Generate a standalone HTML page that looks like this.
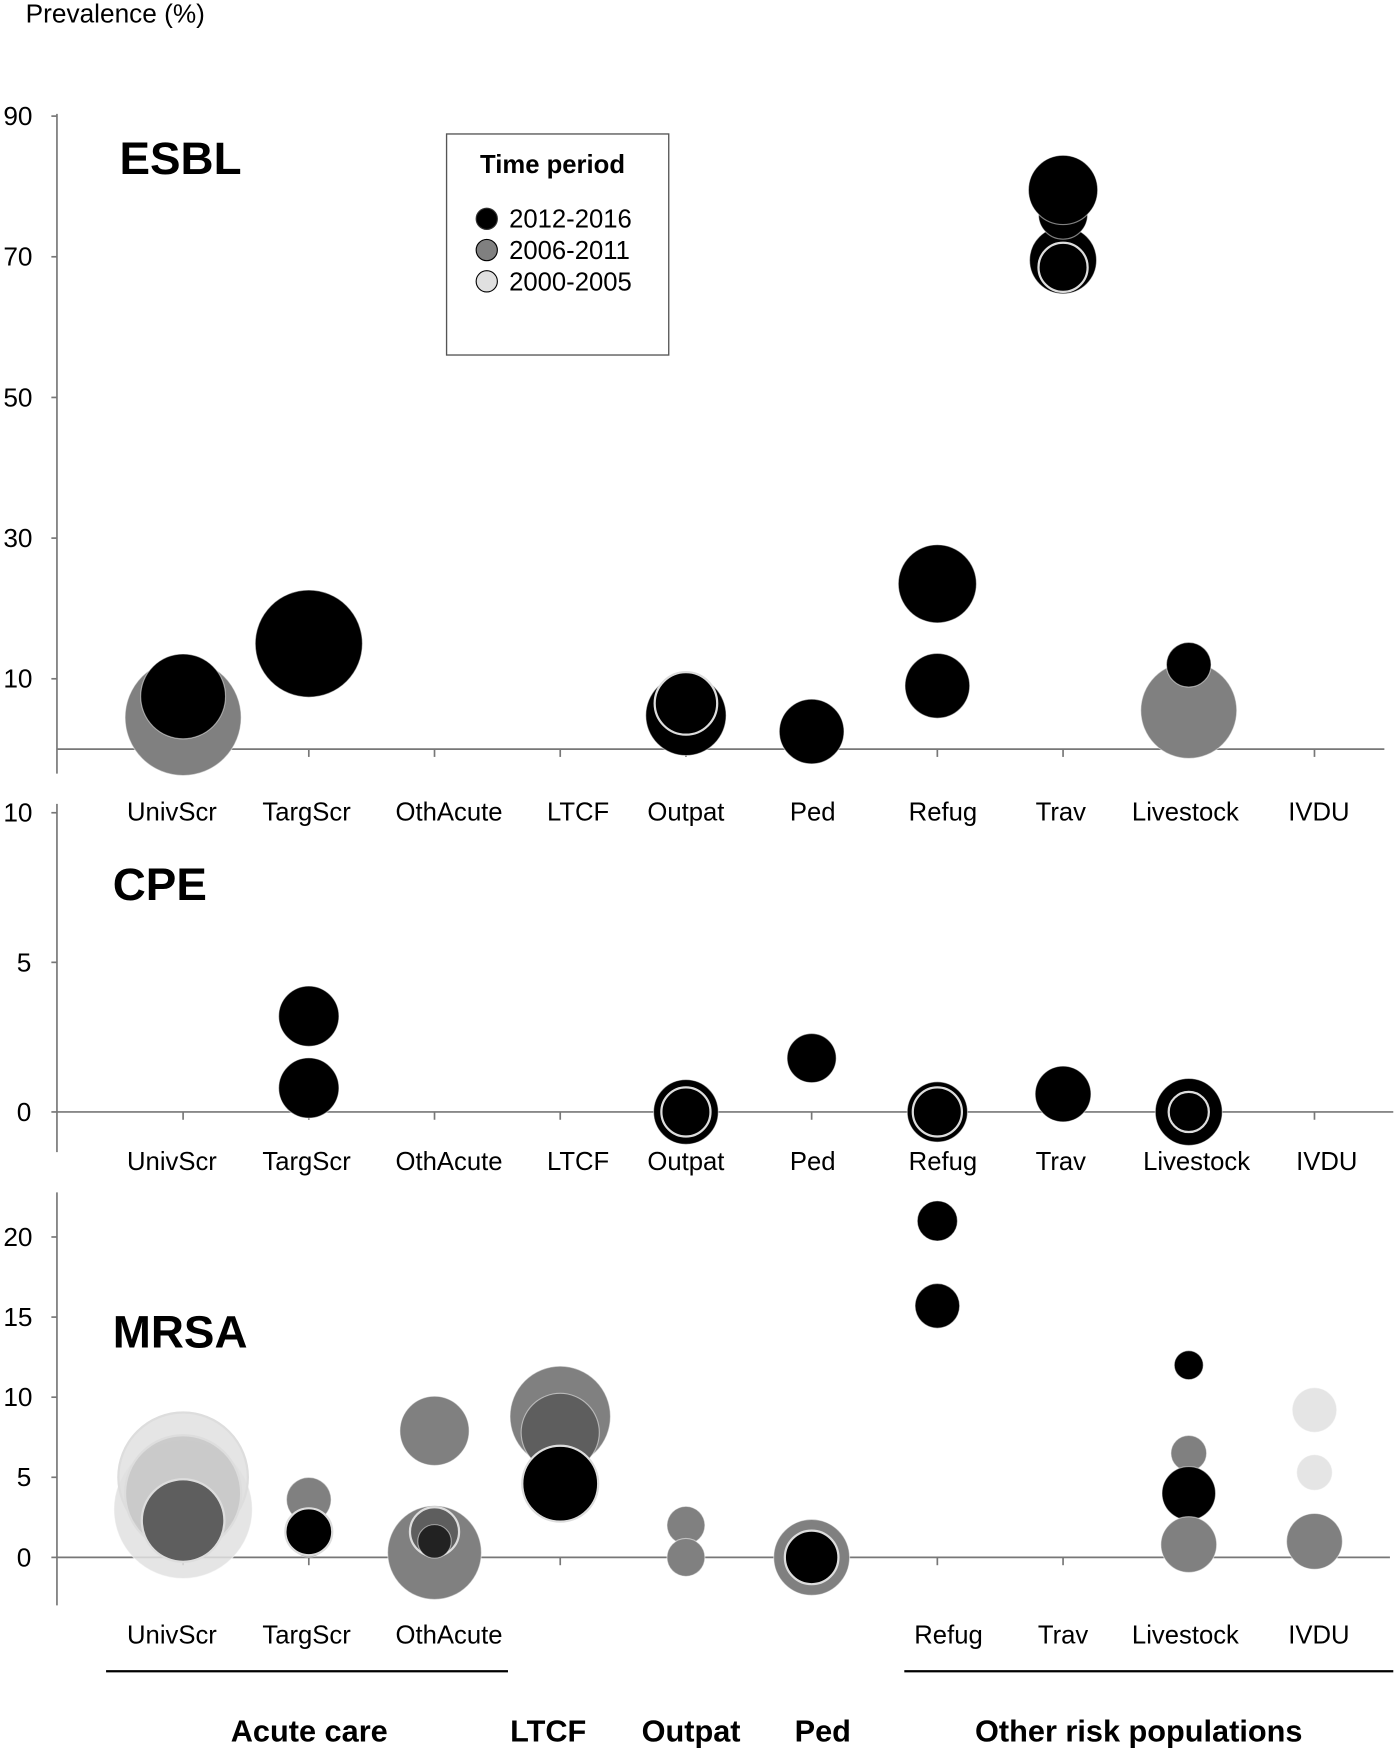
<!DOCTYPE html>
<html><head><meta charset="utf-8"><style>
html,body{margin:0;padding:0;background:#fff;width:1400px;height:1755px;overflow:hidden}
svg text{font-family:"Liberation Sans",sans-serif}
</style></head><body>
<svg id="chart" width="1400" height="1755" viewBox="0 0 1254 1572" xmlns="http://www.w3.org/2000/svg">
<text x="23" y="20" font-size="23.5">Prevalence (%)</text>
<g id="legend">
<rect x="400" y="120" width="199" height="198" fill="#fff" stroke="#555" stroke-width="1.2"/>
<text x="430" y="155" font-size="23" font-weight="bold">Time period</text>
<g><circle cx="436" cy="196" r="9.5" fill="#000" stroke="#333"/><text x="456" y="204" font-size="23">2012-2016</text></g>
<g><circle cx="436" cy="224" r="9.5" fill="#808080" stroke="#000"/><text x="456" y="232" font-size="23">2006-2011</text></g>
<g><circle cx="436" cy="252" r="9.5" fill="#e0e0e0" stroke="#000"/><text x="456" y="260" font-size="23">2000-2005</text></g>
</g>
<g id="root"></g>
</svg>
<script>
const categories = ['UnivScr','TargScr','OthAcute','LTCF','Outpat','Ped','Refug','Trav','Livestock','IVDU'];
const esblTicks = [10,30,50,70,90];
const cpeTicks = [0,5,10];
const mrsaTicks = [0,5,10,15,20];
const esblCat = [0,0,1,4,4,5,6,6,7,7,7,7,8,8];
const esblVal = [4.5,7.5,15,4.8,6.5,2.5,23.5,9,69.5,76,79.5,68.5,5.5,12];
const esblRad = [52,38,48,36,28,29,35,29,30,22,31,22,43,20];
const esblPer = [1,0,0,0,0,0,0,0,0,0,0,0,1,0];
const esblRing= [0,0,0,0,1,0,0,0,0,0,0,1,0,0];
const cpeCat = [1,1,4,4,5,6,6,7,8,8];
const cpeVal = [3.2,0.8,0,0,1.8,0,0,0.6,0,0];
const cpeRad = [27,27,29,22,22,27,22,25,30,18];
const cpePer = [0,0,0,0,0,0,0,0,0,0];
const cpeRing= [0,0,0,1,0,0,1,0,0,1];
const mrsaCat = [0,0,0,0,1,1,1,2,2,2,2,3,3,3,4,4,5,5,6,6,8,8,8,8,9,9,9];
const mrsaVal = [3,5,4,2.3,3.6,1.2,1.6,7.9,0.3,1.6,1.0,8.8,7.8,4.6,2,0,0,0,21,15.7,12,6.5,4,0.8,9.2,5.3,1];
const mrsaRad = [62,58,52,37,20,17,21,31,42,22,15,45,35,34,17,17,34,24,18,20,13,16,24,25,20,16,25];
const mrsaPer = [2,2,3,4,1,1,0,1,1,4,5,1,4,0,1,1,1,0,0,0,0,1,0,1,2,2,1];
const mrsaRing= [0,1,1,1,0,0,1,0,0,1,0,0,0,1,0,0,0,1,0,0,0,0,0,0,0,0,0];
const fills = ['#000','#808080','#e0e0e0','#c4c4c4','#5e5e5e','#222'];

const NS='http://www.w3.org/2000/svg';
const root=document.getElementById('root');
function mk(tag,attrs,parent){const e=document.createElementNS(NS,tag);for(const k in attrs)e.setAttribute(k,attrs[k]);(parent||root).appendChild(e);return e;}
const xScale = i => 164 + i*112.6;
const labOff = [-10,-2,13,16,0,1,5,-2,-3,4];

function panel(name,title,titleY,y0,pxPer,axisTop,axisBot,baseRight,ticks,labY,labShift,cats,vals,rads,pers,rings,labelCats){
  const g=mk('g',{});
  
  
  const y = v => y0 - v*pxPer;
  mk('line',{x1:51,y1:axisTop,x2:51,y2:axisBot,stroke:'#777','stroke-width':1.5},g);
  mk('line',{x1:51,y1:y(0),x2:baseRight,y2:y(0),stroke:'#777','stroke-width':1.5},g);
  ticks.forEach(t=>{
    mk('line',{x1:46,y1:y(t),x2:51,y2:y(t),stroke:'#777','stroke-width':1.5},g);
    const tx=mk('text',{x:t>=10?3:15,y:y(t)+8,'font-size':23.5},g);
    
    
    tx.textContent=t;
  });
  categories.forEach((c,i)=>{
    mk('line',{x1:xScale(i),y1:y(0),x2:xScale(i),y2:y(0)+7,stroke:'#777','stroke-width':1.5},g);
    if(labelCats.indexOf(i)<0)return;
    const tx=mk('text',{x:xScale(i)+labOff[i]+(labShift[i]||0),y:labY,'font-size':23,'text-anchor':'middle'},g);
    
    
    tx.textContent=c;
  });
  for(let k=0;k<vals.length;k++){
    const p=pers[k];
    const c=mk('circle',{cx:xScale(cats[k]),cy:y(vals[k]),r:rads[k],fill:fills[p],stroke:rings[k]?'#ddd':'rgba(255,255,255,0.5)','stroke-width':rings[k]?2:1,'fill-opacity':p===2?0.85:(p===3?0.8:1)},g);
    
    
  }
  const tt=mk('text',{x:title==='ESBL'?107:101,y:titleY,'font-size':41,'font-weight':'bold'},g);
  
  
  tt.textContent=title;
}
panel('esbl','ESBL',156,671,6.3,102,693,1240,esblTicks,735,{},esblCat,esblVal,esblRad,esblPer,esblRing,[0,1,2,3,4,5,6,7,8,9]);
panel('cpe','CPE',806,996,26.8,720,1032,1248,cpeTicks,1048,{6:0,8:10,9:7},cpeCat,cpeVal,cpeRad,cpePer,cpeRing,[0,1,2,3,4,5,6,7,8,9]);
panel('mrsa','MRSA',1207,1395,14.35,1068,1438,1245,mrsaTicks,1472,{6:5,7:2,9:0},mrsaCat,mrsaVal,mrsaRad,mrsaPer,mrsaRing,[0,1,2,6,7,8,9]);

const gl=mk('g',{});


mk('line',{x1:95,y1:1497,x2:455,y2:1497,stroke:'#000','stroke-width':2},gl);
mk('line',{x1:810,y1:1497,x2:1248,y2:1497,stroke:'#000','stroke-width':2},gl);
[['Acute care',277],['LTCF',491],['Outpat',619],['Ped',737],['Other risk populations',1020]].forEach(([t,x])=>{
  const tx=mk('text',{x:x,y:1560,'font-size':27.5,'font-weight':'bold','text-anchor':'middle'},gl);
  
  
  tx.textContent=t;
});
</script>
</body></html>
